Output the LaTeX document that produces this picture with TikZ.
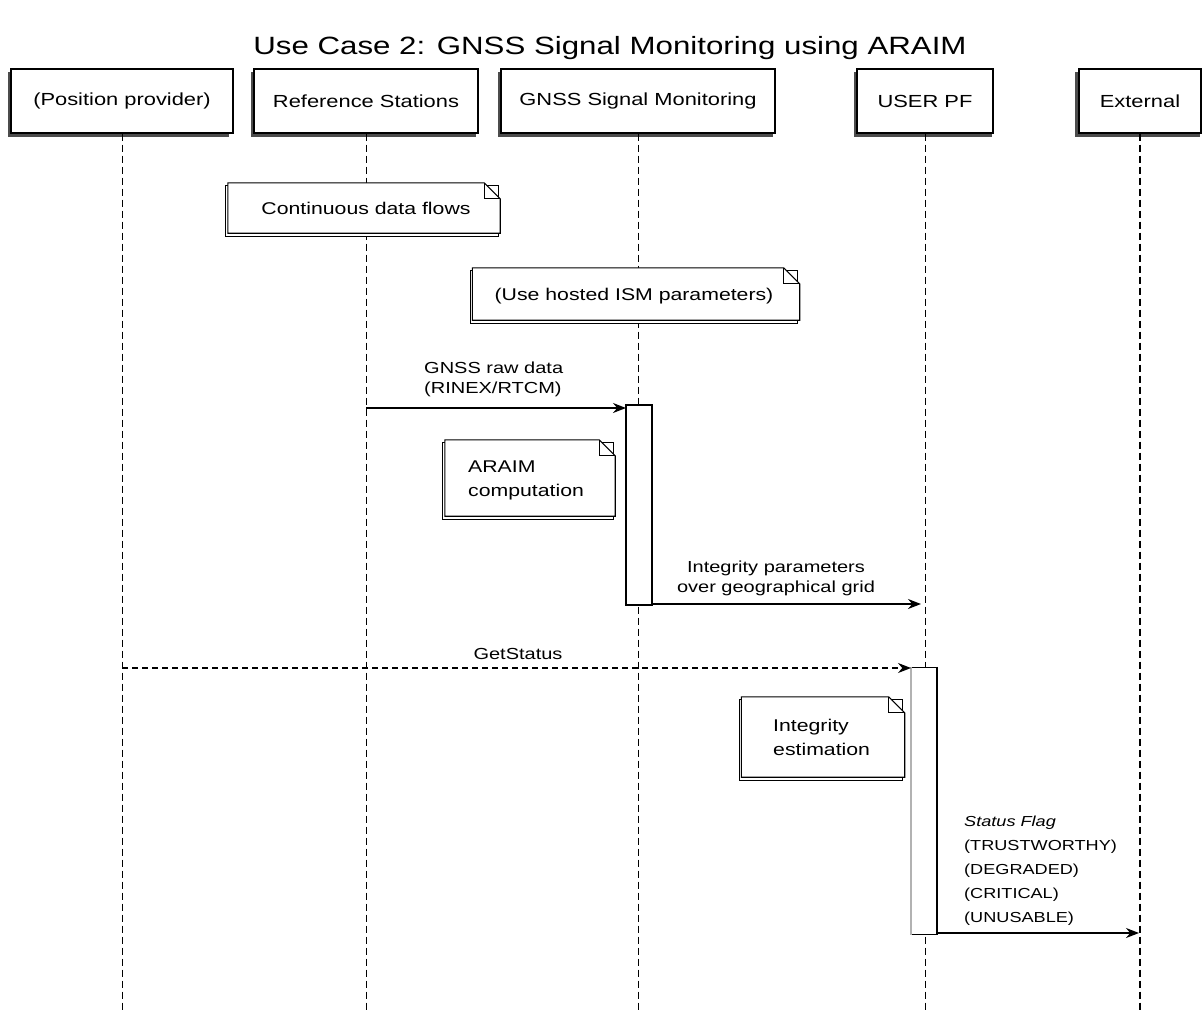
\documentclass[tikz,border=0pt]{standalone}
\usepackage{fontspec}
\setmainfont{Liberation Sans}[FakeStretch=1.25]
\usetikzlibrary{arrows.meta,calc}

\tikzset{
  actor/.style={draw=black, line width=1.1pt, fill=white, minimum height=64pt,
                inner sep=0pt, font=\fontsize{17.5}{20}\selectfont},
  actorshadow/.style={fill=black!70},
  lifeline/.style={draw=black, line width=0.9pt, dash pattern=on 7pt off 4pt},
  extline/.style={draw=black, line width=2.2pt, dash pattern=on 7pt off 4pt},
  notetext/.style={inner sep=0pt, font=\fontsize{17}{24}\selectfont, align=left},
  noteline/.style={draw=black, line width=1.1pt, fill=white},
  activation/.style={draw=black, line width=1.3pt, fill=white},
  msg/.style={draw=black, line width=1.6pt, -{Stealth[length=13pt,width=10pt]}},
  msgdash/.style={draw=black, line width=1.2pt, dash pattern=on 6pt off 4pt,
                  -{Stealth[length=13pt,width=10pt]}},
  msglabel/.style={inner sep=0pt, font=\fontsize{16}{20}\selectfont, align=left},
}

% note outline with a folded corner drawn around a text node
\newcommand{\drawnote}[2]{%
  \path[noteline] ([xshift=-2pt,yshift=-3pt]#1.south west) rectangle ([xshift=-2pt,yshift=-3pt]#1.north east);
  \path[noteline] (#1.south west) -- (#1.north west) -- ([xshift=-#2]#1.north east)
     -- ([yshift=-#2]#1.north east) -- (#1.south east) -- cycle;
  \draw[line width=0.8pt] ([xshift=-#2]#1.north east) -- ([xshift=-#2,yshift=-#2]#1.north east)
     -- ([yshift=-#2]#1.north east);
}

\begin{document}
\begin{tikzpicture}[x=1pt,y=-1pt]
\useasboundingbox (0,0) rectangle (1203,1010);
\fill[white] (0,0) rectangle (1203,1010);

% title
\node[font=\fontsize{25}{28}\selectfont] (title) at (610,48) {Use Case 2: GNSS Signal Monitoring using ARAIM};

% participants (shadow first, then the box)
\fill[actorshadow] (8,72) rectangle (229,137);
\node[actor, minimum width=222pt] (pp)  at (122,101) {(Position provider)};
\fill[actorshadow] (251,72) rectangle (476,137);
\node[actor, minimum width=224pt] (rs)  at (366,101) {Reference Stations};
\fill[actorshadow] (498,72) rectangle (773,137);
\node[actor, minimum width=274pt] (gsm) at (638,101) {GNSS Signal Monitoring};
\fill[actorshadow] (854,72) rectangle (992,137);
\node[actor, minimum width=136pt] (upf) at (925,101) {USER PF};
\fill[actorshadow] (1075,72) rectangle (1200,137);
\node[actor, minimum width=122pt] (ext) at (1140,101) {External};

% lifelines
\coordinate (ppE)  at (122,1010);
\coordinate (rsE)  at (366,1010);
\coordinate (gsmE) at (638,1010);
\coordinate (upfE) at (925,1010);
\coordinate (extE) at (1140,1010);
\draw[lifeline] (pp.south)  -- (ppE);
\draw[lifeline] (rs.south)  -- (rsE);
\draw[lifeline] (gsm.south) -- (gsmE);
\draw[lifeline] (upf.south) -- (upfE);
\draw[extline]  (ext.south) -- (extE);

% notes
\node[notetext, minimum width=272pt, minimum height=50pt] (n1) at (364,208) {};
\drawnote{n1}{16pt}
\node[notetext] (n1t) at (366,208) {Continuous data flows};

\node[notetext, minimum width=327pt, minimum height=52pt] (n2) at (636,294) {};
\drawnote{n2}{16pt}
\node[notetext] (n2t) at (634,296) {(Use hosted ISM parameters)};

% activation on GNSS Signal Monitoring
\node[activation, minimum width=26pt, minimum height=200pt, inner sep=0pt] (act1) at (639,505) {};

% message 1
\coordinate (m1s) at (366,408);
\coordinate (m1e) at (626,408);
\draw[msg] (m1s) -- (m1e);
\node[msglabel, anchor=south west] (l1) at (424,397) {GNSS raw data\\(RINEX/RTCM)};

% note on the computation
\node[notetext, minimum width=170pt, minimum height=76pt] (n3) at (530,478) {};
\drawnote{n3}{16pt}
\node[notetext, anchor=west] (n3t) at (468,480) {ARAIM\\computation};

% message 2
\coordinate (m2s) at (652,604);
\coordinate (m2e) at (921,604);
\draw[msg] (m2s) -- (m2e);
\node[msglabel, align=center, anchor=south] (l2) at (776,596) {Integrity parameters\\over geographical grid};

% activation on USER PF
\node[activation, minimum width=25pt, minimum height=267pt, inner sep=0pt] (act2) at (924,801) {};
\draw[black!30, line width=2.5pt] (act2.north west) -- (act2.south west);
\draw[black, line width=2.5pt] (act2.north east) -- (act2.south east);

% message 3 (dashed)
\coordinate (m3s) at (122,668);
\coordinate (m3e) at (911,668);
\draw[msgdash] (m3s) -- (m3e);
\node[msglabel, anchor=south] (l3) at (518,660) {GetStatus};

% note on the estimation
\node[notetext, minimum width=163pt, minimum height=80pt] (n4) at (823,737) {};
\drawnote{n4}{16pt}
\node[notetext, anchor=west] (n4t) at (773,737) {Integrity\\estimation};

% message 4
\coordinate (m4s) at (937,933);
\coordinate (m4e) at (1139,933);
\draw[msg] (m4s) -- (m4e);
\node[msglabel, anchor=south west, font=\fontsize{14.5}{24}\selectfont] (l4) at (964,926)
  {\textit{Status Flag}\\(TRUSTWORTHY)\\(DEGRADED)\\(CRITICAL)\\(UNUSABLE)};

\end{tikzpicture}
\end{document}
